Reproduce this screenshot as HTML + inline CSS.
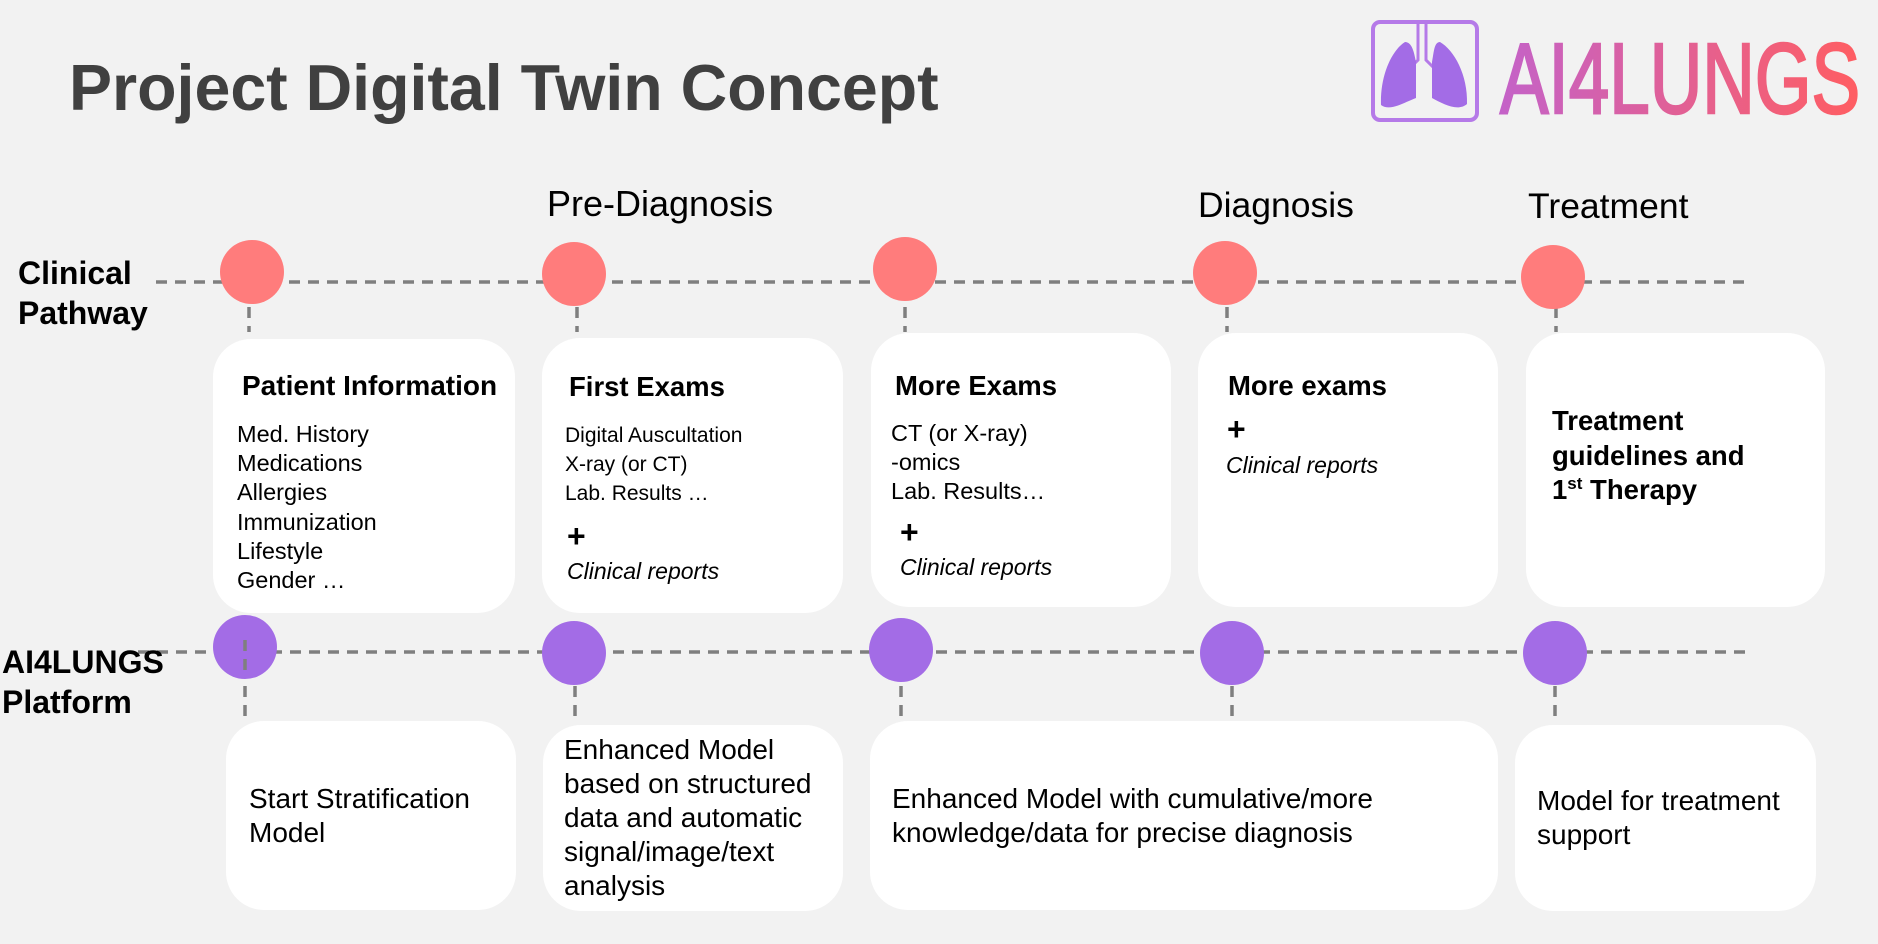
<!DOCTYPE html>
<html><head><meta charset="utf-8">
<style>
html,body{margin:0;padding:0}
body{width:1878px;height:944px;background:#f2f2f2;position:relative;overflow:hidden;font-family:"Liberation Sans",Arial,sans-serif;color:#000}
.a{position:absolute;white-space:nowrap}
.box{position:absolute;background:#fff;border-radius:38px}
.b{font-weight:bold}
.i{font-style:italic}
</style></head><body>
<svg width="1878" height="944" style="position:absolute;left:0;top:0">
<g stroke="#7f7f7f" stroke-width="3.5" stroke-dasharray="11,8" fill="none">
<line x1="156" y1="282" x2="1745" y2="282"/>
<line x1="138" y1="652" x2="1750" y2="652"/>
<line x1="249" y1="307" x2="249" y2="332"/>
<line x1="577" y1="307" x2="577" y2="332"/>
<line x1="905" y1="307" x2="905" y2="332"/>
<line x1="1227" y1="307" x2="1227" y2="332"/>
<line x1="1556" y1="307" x2="1556" y2="332"/>
<line x1="245" y1="686" x2="245" y2="718"/>
<line x1="575" y1="686" x2="575" y2="718"/>
<line x1="901" y1="686" x2="901" y2="718"/>
<line x1="1232" y1="686" x2="1232" y2="718"/>
<line x1="1555" y1="686" x2="1555" y2="718"/>
</g>
<g fill="#ff7c7c">
<circle cx="252" cy="272" r="32"/>
<circle cx="574" cy="274" r="32"/>
<circle cx="905" cy="269" r="32"/>
<circle cx="1225" cy="273" r="32"/>
<circle cx="1553" cy="277" r="32"/>
</g>
<g fill="#a36ce6">
<circle cx="245" cy="647" r="32"/>
<circle cx="574" cy="653" r="32"/>
<circle cx="901" cy="650" r="32"/>
<circle cx="1232" cy="653" r="32"/>
<circle cx="1555" cy="653" r="32"/>
</g>
<line x1="245" y1="640" x2="245" y2="670" stroke="#7f7f7f" stroke-width="3.5" stroke-dasharray="11,8"/>
<!-- logo -->
<rect x="1373" y="22" width="104" height="98" rx="7" fill="none" stroke="#b57ae8" stroke-width="4"/>
<path d="M1418 24 V60 L1410 68 M1426 24 V60 L1434 68" stroke="#b57ae8" stroke-width="3" fill="none"/>
<path d="M1405 42 C1392 50 1380 75 1381 105 C1390 112 1405 102 1416 98 L1416 62 C1414 52 1412 42 1405 42Z" fill="#a36ce6"/>
<path d="M1440 42 C1454 50 1468 75 1467 104 C1458 112 1443 104 1432 98 L1432 62 C1434 52 1434 42 1440 42Z" fill="#a36ce6"/>
<defs><linearGradient id="g" x1="0" x2="1"><stop offset="0" stop-color="#c462c8"/><stop offset="1" stop-color="#ff5e62"/></linearGradient></defs>
<text x="1500" y="113" font-family="Liberation Sans, Arial, sans-serif" font-size="100" fill="url(#g)" stroke="url(#g)" stroke-width="2.5" textLength="360" lengthAdjust="spacingAndGlyphs">AI4LUNGS</text>
</svg>

<div class="a b" style="left:69px;top:50px;font-size:64.5px;line-height:76px;color:#404040">Project Digital Twin Concept</div>

<div class="a" style="left:547px;top:183px;font-size:36px;line-height:42px">Pre-Diagnosis</div>
<div class="a" style="left:1198px;top:184px;font-size:35.5px;line-height:42px">Diagnosis</div>
<div class="a" style="left:1528px;top:185px;font-size:35.5px;line-height:42px">Treatment</div>

<div class="a b" style="left:18px;top:253px;font-size:32px;line-height:40px">Clinical<br>Pathway</div>
<div class="a b" style="left:2px;top:642px;font-size:32px;line-height:40px">AI4LUNGS<br>Platform</div>

<div class="box" style="left:213px;top:339px;width:302px;height:274px"></div>
<div class="box" style="left:542px;top:338px;width:301px;height:275px"></div>
<div class="box" style="left:871px;top:333px;width:300px;height:274px"></div>
<div class="box" style="left:1198px;top:333px;width:300px;height:274px"></div>
<div class="box" style="left:1526px;top:333px;width:299px;height:274px"></div>

<div class="box" style="left:226px;top:721px;width:290px;height:189px"></div>
<div class="box" style="left:543px;top:725px;width:300px;height:186px"></div>
<div class="box" style="left:870px;top:721px;width:628px;height:189px"></div>
<div class="box" style="left:1515px;top:725px;width:301px;height:186px"></div>

<div class="a b" style="left:242px;top:369px;font-size:28px;line-height:34px">Patient Information</div>
<div class="a" style="left:237px;top:420px;font-size:23.5px;line-height:29.2px">Med. History<br>Medications<br>Allergies<br>Immunization<br>Lifestyle<br>Gender …</div>

<div class="a b" style="left:569px;top:370px;font-size:27.5px;line-height:34px">First Exams</div>
<div class="a" style="left:565px;top:421px;font-size:21px;line-height:29px">Digital Auscultation<br>X-ray (or CT)<br>Lab. Results …</div>
<div class="a b" style="left:567px;top:518px;font-size:32px;line-height:36px">+</div>
<div class="a i" style="left:567px;top:556px;font-size:23px;line-height:30px">Clinical reports</div>

<div class="a b" style="left:895px;top:369px;font-size:27.5px;line-height:34px">More Exams</div>
<div class="a" style="left:891px;top:419px;font-size:23.5px;line-height:29.2px">CT (or X-ray)<br>-omics<br>Lab. Results…</div>
<div class="a b" style="left:900px;top:514px;font-size:32px;line-height:36px">+</div>
<div class="a i" style="left:900px;top:552px;font-size:23px;line-height:30px">Clinical reports</div>

<div class="a b" style="left:1228px;top:369px;font-size:27.5px;line-height:34px">More exams</div>
<div class="a b" style="left:1227px;top:411px;font-size:32px;line-height:36px">+</div>
<div class="a i" style="left:1226px;top:450px;font-size:23px;line-height:30px">Clinical reports</div>

<div class="a b" style="left:1552px;top:404px;font-size:27.5px;line-height:34.5px">Treatment<br>guidelines and<br>1<sup style="font-size:17px;line-height:0">st</sup> Therapy</div>

<div class="a" style="left:249px;top:782px;font-size:28px;line-height:34px">Start Stratification<br>Model</div>
<div class="a" style="left:564px;top:733px;font-size:28px;line-height:34px">Enhanced Model<br>based on structured<br>data and automatic<br>signal/image/text<br>analysis</div>
<div class="a" style="left:892px;top:782px;font-size:28px;line-height:34px">Enhanced Model with cumulative/more<br>knowledge/data for precise diagnosis</div>
<div class="a" style="left:1537px;top:784px;font-size:28px;line-height:34px">Model for treatment<br>support</div>
</body></html>
